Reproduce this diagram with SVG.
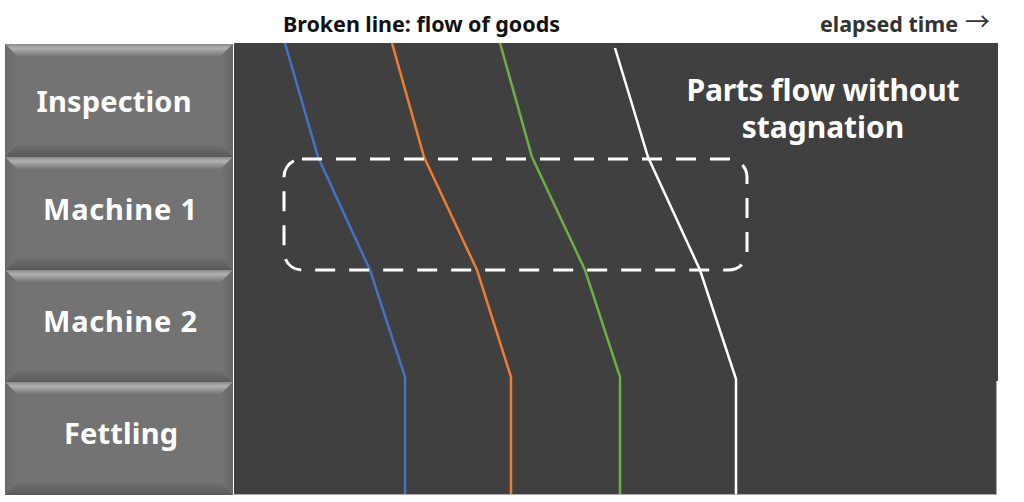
<svg xmlns="http://www.w3.org/2000/svg" width="1024" height="502" viewBox="0 0 1024 502">
<defs>
<linearGradient id="gTop" x1="0" y1="0" x2="0" y2="1"><stop offset="0" stop-color="#8a8a8a"/><stop offset="0.35" stop-color="#b0b0b0"/><stop offset="1" stop-color="#787878"/></linearGradient>
<linearGradient id="gBot" x1="0" y1="0" x2="0" y2="1"><stop offset="0" stop-color="#6e6e6e"/><stop offset="1" stop-color="#5a5a5a"/></linearGradient>
<linearGradient id="gL" x1="0" y1="0" x2="1" y2="0"><stop offset="0" stop-color="#6a6a6a"/><stop offset="1" stop-color="#747474"/></linearGradient>
<linearGradient id="gR" x1="0" y1="0" x2="1" y2="0"><stop offset="0" stop-color="#747474"/><stop offset="1" stop-color="#666666"/></linearGradient>
<g id="bevel">
<rect x="0" y="0" width="228" height="113" fill="#737373"/>
<polygon points="0,0 228,0 216,12 12,12" fill="url(#gTop)"/>
<polygon points="0,0 12,12 12,101 0,113" fill="url(#gL)"/>
<polygon points="228,0 228,113 216,101 216,12" fill="url(#gR)"/>
<polygon points="0,113 12,101 216,101 228,113" fill="url(#gBot)"/>
</g>
</defs>
<style>
.lbl{font-family:"Noto Sans","Liberation Sans",sans-serif;font-weight:bold;font-size:29px;fill:#ffffff;text-anchor:middle}
.hdr{font-family:"Noto Sans","Liberation Sans",sans-serif;font-weight:bold;font-size:21.5px;fill:#111111}
.flow{fill:none;stroke-width:2.5;stroke-linejoin:miter}
</style>
<rect width="1024" height="502" fill="#ffffff"/>
<rect x="234" y="43" width="764" height="338" fill="#404040"/>
<rect x="234" y="381" width="762" height="113" fill="#404040"/>
<line x1="996.5" y1="381" x2="996.5" y2="494" stroke="#aaaaaa" stroke-width="1"/>
<line x1="234" y1="494.5" x2="997" y2="494.5" stroke="#aaaaaa" stroke-width="1"/>

<g id="node-inspection"><use href="#bevel" x="5" y="44"/><text class="lbl" x="114" y="112" textLength="155">Inspection</text></g>
<g id="node-machine1"><use href="#bevel" x="5" y="157"/><text class="lbl" x="120" y="220" textLength="154">Machine 1</text></g>
<g id="node-machine2"><use href="#bevel" x="5" y="270"/><text class="lbl" x="120" y="332" textLength="154">Machine 2</text></g>
<g id="node-fettling"><use href="#bevel" x="5" y="382"/><text class="lbl" x="121" y="444" textLength="114">Fettling</text></g>

<text class="hdr" x="283" y="32" textLength="277">Broken line: flow of goods</text>
<text class="hdr" x="820" y="32" style="fill:#333333" textLength="138">elapsed time</text>
<text x="965" y="31" style="font-family:'Noto Sans CJK JP',sans-serif;font-size:25px;fill:#333333">→</text>

<g id="connectors">
<polyline class="flow" stroke="#4472c4" points="285,43 318,157 370,270 405,377 405,494"/>
<polyline class="flow" stroke="#ed7d31" points="392,43 424,157 477,270 511,377 511,494"/>
<polyline class="flow" stroke="#70ad47" points="500,43 532,157 585,270 620,377 620,494"/>
<polyline class="flow" stroke="#ffffff" points="615,48 648,157 700,270 736,379 736,494"/>
</g>

<rect x="284" y="159" width="463" height="111" rx="18" fill="none" stroke="#ffffff" stroke-width="3" stroke-dasharray="20,14"/>

<g id="note">
<text class="lbl" x="823" y="101" style="font-size:30px" textLength="273">Parts flow without</text>
<text class="lbl" x="823" y="138" style="font-size:30px">stagnation</text>
</g>
</svg>
